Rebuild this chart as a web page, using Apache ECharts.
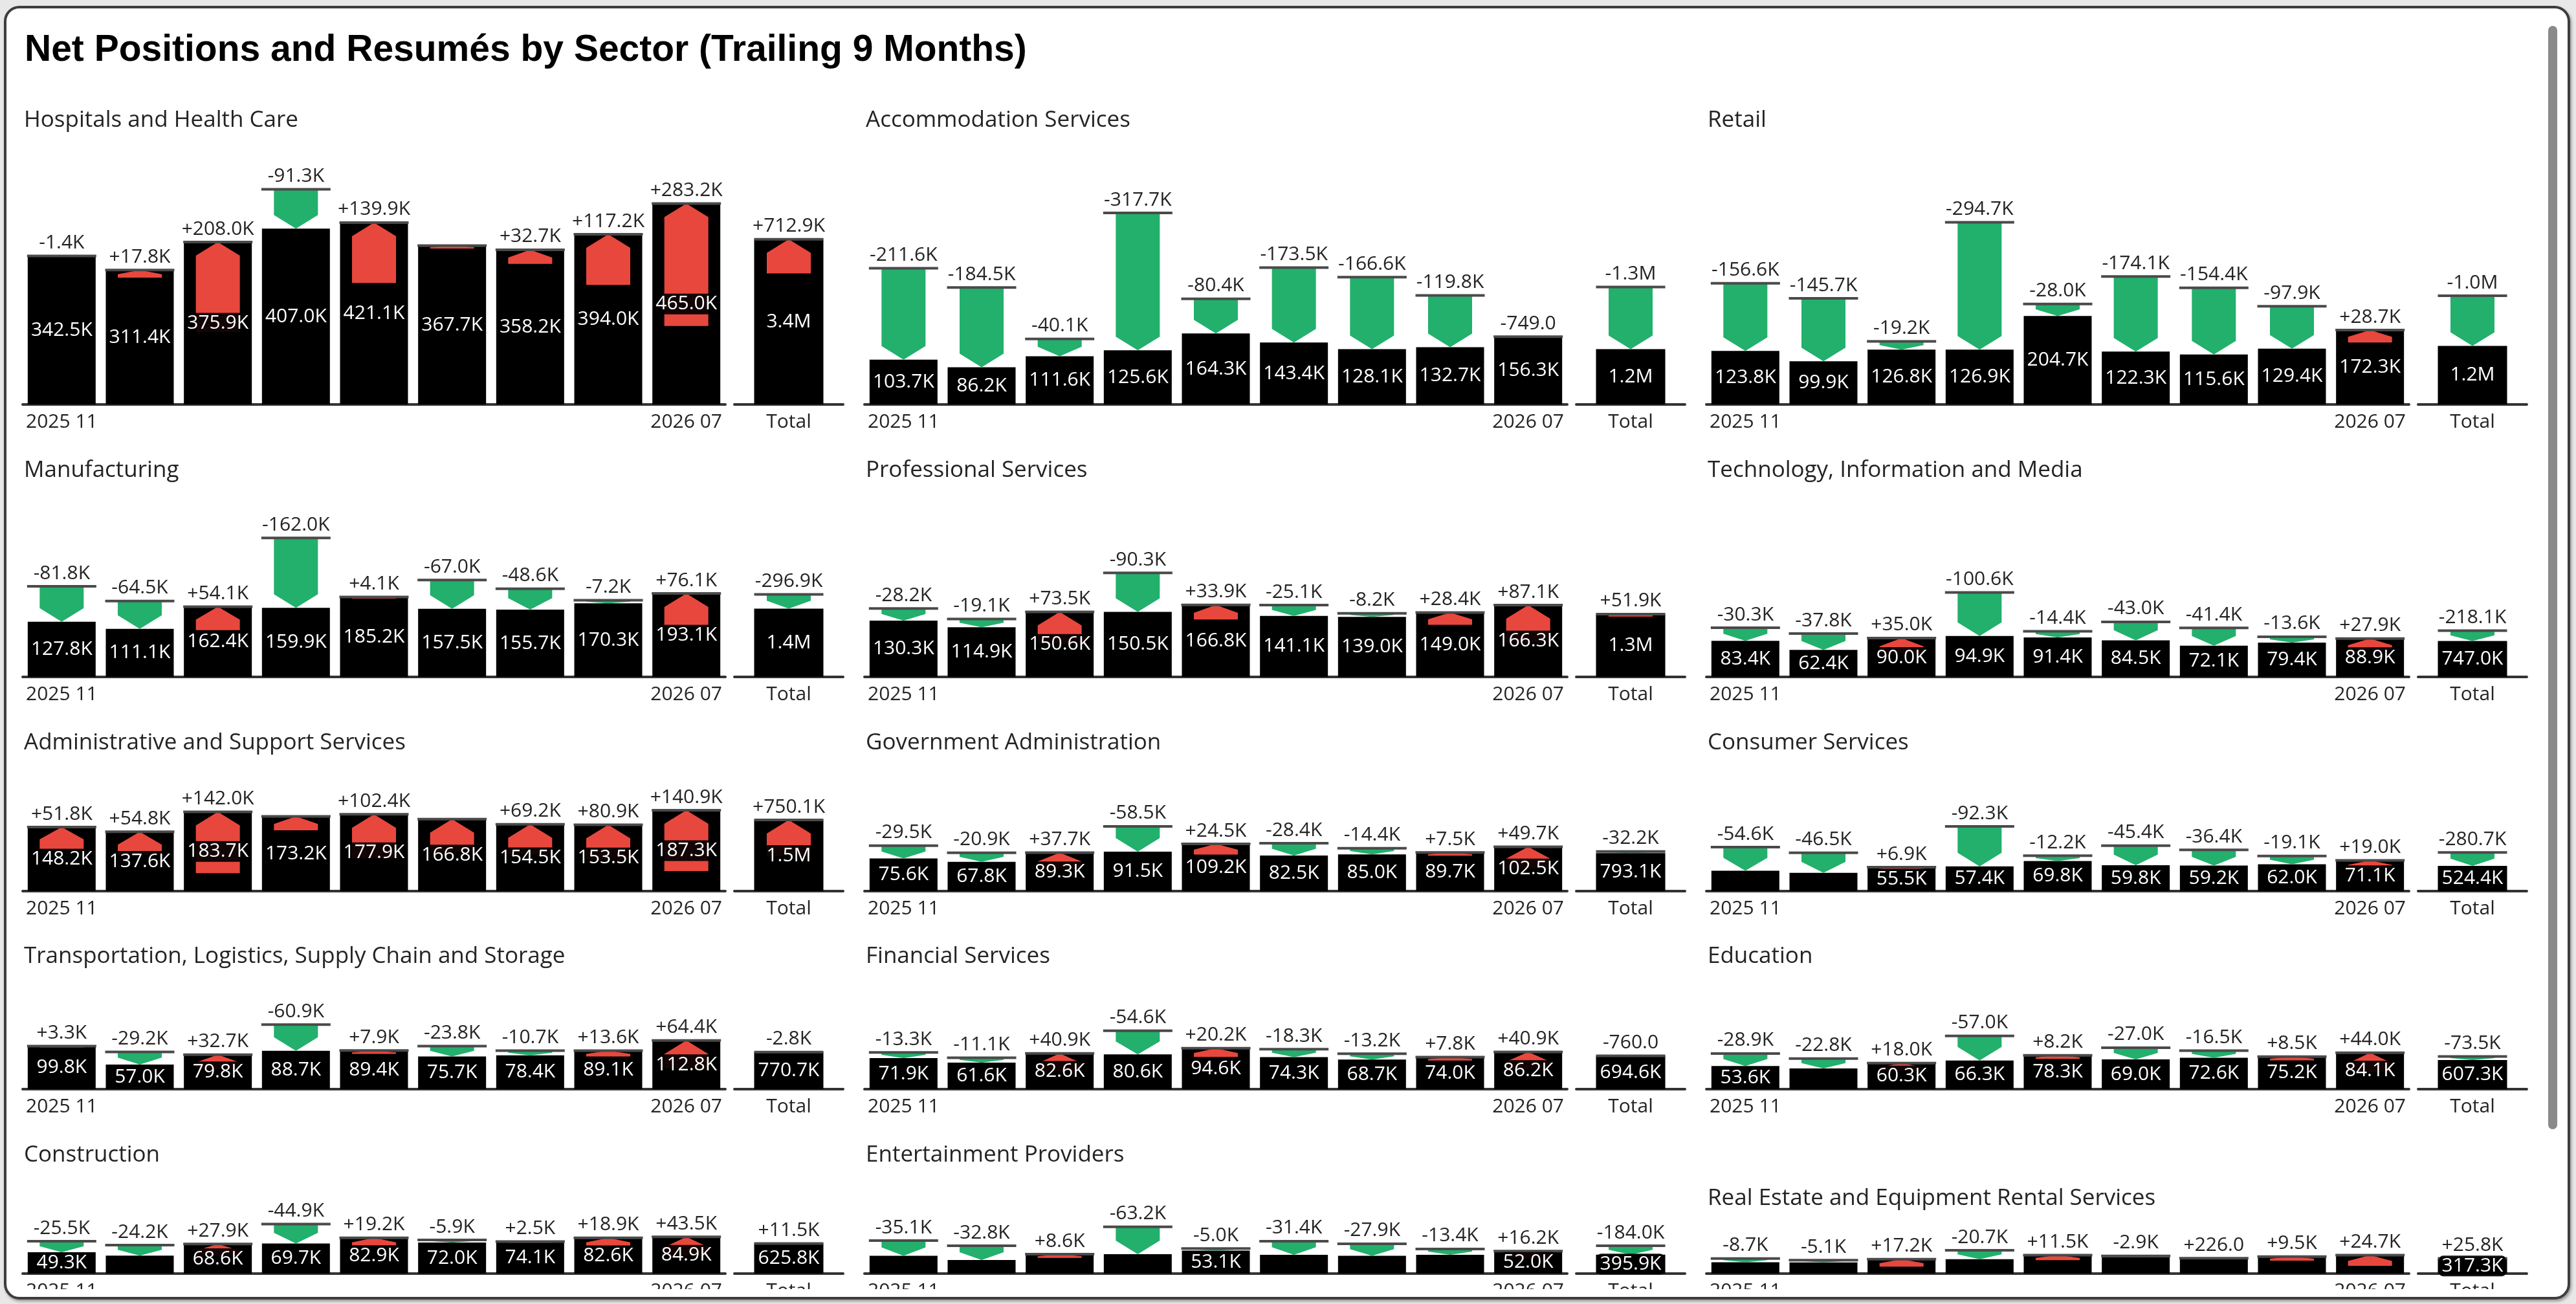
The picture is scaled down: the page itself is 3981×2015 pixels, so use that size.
<!DOCTYPE html>
<html>
<head>
<meta charset="utf-8">
<script src="https://cdn.jsdelivr.net/npm/echarts@6/dist/echarts.min.js"></script>
<style>
  html, body { margin: 0; padding: 0; width: 3981px; height: 2015px; overflow: hidden; background: #e8e8e8; }
  #frame { position: absolute; left: 6px; top: 9px; width: 3966px; height: 1999px; box-sizing: border-box;
           border: 4px solid #3d3d3d; border-radius: 24px; background: #fff; box-shadow: 2px 3px 4px rgba(0,0,0,.35); }
  #clip { position: absolute; left: 0; top: 0; width: 3981px; height: 1992px; overflow: hidden; }
  #chart { width: 3981px; height: 2100px; }
  #thumb { position: absolute; left: 3938px; top: 40px; width: 14px; height: 1705px; border-radius: 7px; background: #8a8a8a; }
</style>
</head>
<body>
<div id="frame"></div>
<div id="clip"><div id="chart"></div></div>
<div id="thumb"></div>
<script>
// values in thousands (K)
var mainTitle = 'Net Positions and Resumés by Sector (Trailing 9 Months)';
var months = ['2025 11', '2025 12', '2026 01', '2026 02', '2026 03', '2026 04', '2026 05', '2026 06', '2026 07'];
var sectors = [
  'Hospitals and Health Care', 'Accommodation Services', 'Retail',
  'Manufacturing', 'Professional Services', 'Technology, Information and Media',
  'Administrative and Support Services', 'Government Administration', 'Consumer Services',
  'Transportation, Logistics, Supply Chain and Storage', 'Financial Services', 'Education',
  'Construction', 'Entertainment Providers', 'Real Estate and Equipment Rental Services'
];
// net positions per month (black bars)
var positions = [
  [342.5, 311.4, 375.9, 407.0, 421.1, 367.7, 358.2, 394.0, 465.0],
  [103.7, 86.2, 111.6, 125.6, 164.3, 143.4, 128.1, 132.7, 156.3],
  [123.8, 99.9, 126.8, 126.9, 204.7, 122.3, 115.6, 129.4, 172.3],
  [127.8, 111.1, 162.4, 159.9, 185.2, 157.5, 155.7, 170.3, 193.1],
  [130.3, 114.9, 150.6, 150.5, 166.8, 141.1, 139.0, 149.0, 166.3],
  [83.4, 62.4, 90.0, 94.9, 91.4, 84.5, 72.1, 79.4, 88.9],
  [148.2, 137.6, 183.7, 173.2, 177.9, 166.8, 154.5, 153.5, 187.3],
  [75.6, 67.8, 89.3, 91.5, 109.2, 82.5, 85.0, 89.7, 102.5],
  [47.3, 42.3, 55.5, 57.4, 69.8, 59.8, 59.2, 62.0, 71.1],
  [99.8, 57.0, 79.8, 88.7, 89.4, 75.7, 78.4, 89.1, 112.8],
  [71.9, 61.6, 82.6, 80.6, 94.6, 74.3, 68.7, 74.0, 86.2],
  [53.6, 47.9, 60.3, 66.3, 78.3, 69.0, 72.6, 75.2, 84.1],
  [49.3, 41.7, 68.6, 69.7, 82.9, 72.0, 74.1, 82.6, 84.9],
  [41.2, 31.5, 44.9, 44.9, 53.1, 43.6, 41.1, 43.6, 52.0],
  [26.2, 25.9, 33.4, 33.2, 42.7, 38.1, 35.5, 39.5, 42.8]
];
// positions minus resumés per month (arrows)
var netChange = [
  [-1.4, 17.8, 208.0, -91.3, 139.9, 6.8, 32.7, 117.2, 283.2],
  [-211.6, -184.5, -40.1, -317.7, -80.4, -173.5, -166.6, -119.8, -0.749],
  [-156.6, -145.7, -19.2, -294.7, -28.0, -174.1, -154.4, -97.9, 28.7],
  [-81.8, -64.5, 54.1, -162.0, 4.1, -67.0, -48.6, -7.2, 76.1],
  [-28.2, -19.1, 73.5, -90.3, 33.9, -25.1, -8.2, 28.4, 87.1],
  [-30.3, -37.8, 35.0, -100.6, -14.4, -43.0, -41.4, -13.6, 27.9],
  [51.8, 54.8, 142.0, 32.5, 102.4, 75.6, 69.2, 80.9, 140.9],
  [-29.5, -20.9, 37.7, -58.5, 24.5, -28.4, -14.4, 7.5, 49.7],
  [-54.6, -46.5, 6.9, -92.3, -12.2, -45.4, -36.4, -19.1, 19.0],
  [3.3, -29.2, 32.7, -60.9, 7.9, -23.8, -10.7, 13.6, 64.4],
  [-13.3, -11.1, 40.9, -54.6, 20.2, -18.3, -13.2, 7.8, 40.9],
  [-28.9, -22.8, 18.0, -57.0, 8.2, -27.0, -16.5, 8.5, 44.0],
  [-25.5, -24.2, 27.9, -44.9, 19.2, -5.9, 2.5, 18.9, 43.5],
  [-35.1, -32.8, 8.6, -63.2, -5.0, -31.4, -27.9, -13.4, 16.2],
  [-8.7, -5.1, 17.2, -20.7, 11.5, -2.9, 0.226, 9.5, 24.7]
];
var totalPositions = [3442.8, 1151.9, 1221.7, 1423.0, 1308.5, 747.0, 1482.7, 793.1, 524.4, 770.7, 694.6, 607.3, 625.8, 395.9, 317.3];
var totalNet = [712.9, -1294.9, -1041.9, -296.9, 51.9, -218.1, 750.1, -32.2, -280.7, -2.8, -0.76, -73.5, 11.5, -184.0, 25.8];
// month labels that the original hides because they collide
var hiddenNet = { 0: [5], 6: [3, 5] };

// layout (pixels)
var PX_PER_K = 0.6675, Y_MAX = 600, GRID_H = Y_MAX * PX_PER_K;
var colX = [35, 1336, 2637];
var rowBase = [625, 1046, 1377, 1683, 1968];
var rowTitle = [186, 727, 1148, 1478, 1785];
var titleNudge = { 14: 67 };
var ARROW_W = 68, TIP_H = 21, MARK_W = 107;
var FONT = '"Open Sans", "Segoe UI", sans-serif';
var LABEL_SIZE = 30;
var TEXT = '#252423', GREEN = '#22b06c', RED = '#e8473d';

function fmt(k) {
  var a = Math.abs(k);
  if (a >= 1000) return (k / 1000).toFixed(1) + 'M';
  if (a >= 1) return k.toFixed(1) + 'K';
  return (k * 1000).toFixed(1);
}
function signed(k) { return (k > 0 ? '+' : '') + fmt(k); }

function makeRender(hidden, isTotal) {
  return function (params, api) {
    var i = api.value(0), pos = api.value(1), net = api.value(2);
    var pTop = api.coord([i, pos]), pRes = api.coord([i, pos - net]);
    var base = api.coord([i, 0])[1];
    var x = pTop[0];
    var yTop = Math.min(pTop[1], pRes[1]), yBot = Math.max(pTop[1], pRes[1]);
    var len = yBot - yTop, hw = ARROW_W / 2, tip = Math.min(TIP_H, len * 0.55);
    var pts;
    if (net < 0) {
      pts = [[x - hw, yTop], [x + hw, yTop], [x + hw, yBot - tip], [x, yBot], [x - hw, yBot - tip]];
    } else {
      pts = [[x, yTop], [x + hw, yTop + tip], [x + hw, yBot], [x - hw, yBot], [x - hw, yTop + tip]];
    }
    var kids = [
      { type: 'polygon', shape: { points: pts }, style: { fill: net < 0 ? GREEN : RED } },
      { type: 'rect', shape: { x: x - MARK_W / 2, y: yTop - 2, width: MARK_W, height: 4 }, style: { fill: '#4a4a4a' } }
    ];
    if (hidden.indexOf(i) < 0) {
      kids.push({ type: 'text', x: x, y: yTop - 5,
        style: { text: signed(net), align: 'center', verticalAlign: 'bottom', fontFamily: FONT, fontSize: LABEL_SIZE, fill: TEXT } });
    }
    if (isTotal || base - pTop[1] >= 32) {
      kids.push({ type: 'text', x: x, y: (base + pTop[1]) / 2,
        style: { text: fmt(pos), align: 'center', verticalAlign: 'middle', fontFamily: FONT, fontSize: LABEL_SIZE, fill: '#fff',
                 backgroundColor: 'rgba(0,0,0,0.92)', padding: [1, 4], borderRadius: 6 } });
    }
    return { type: 'group', children: kids };
  };
}

var title = [{
  text: mainTitle, left: 38, top: 50, padding: 0,
  textStyle: { fontFamily: '"Liberation Sans", Arial, sans-serif', fontWeight: 'bold', fontSize: 57, lineHeight: 57, color: '#000' }
}];
var grid = [], xAxis = [], yAxis = [], series = [];

sectors.forEach(function (name, s) {
  var r = Math.floor(s / 3), c = s % 3, x0 = colX[c], base = rowBase[r];
  var ty = rowTitle[r] + (titleNudge[s] || 0);
  title.push({ text: name, left: x0 + 2, top: ty - 18, padding: 0,
    textStyle: { fontFamily: FONT, fontSize: 35, lineHeight: 36, fontWeight: 'normal', color: TEXT } });

  var gi = grid.length;
  grid.push({ left: x0, top: base - GRID_H, width: 1086, height: GRID_H });
  grid.push({ left: x0 + 1100, top: base - GRID_H, width: 168, height: GRID_H });

  var axisCommon = {
    type: 'category', axisTick: { show: false },
    axisLine: { lineStyle: { color: '#333', width: 4 } },
    axisLabel: { interval: 0, margin: 12, fontFamily: FONT, fontSize: LABEL_SIZE, color: TEXT }
  };
  xAxis.push(Object.assign({}, axisCommon, { gridIndex: gi, data: months,
    axisLabel: Object.assign({}, axisCommon.axisLabel, {
      formatter: function (v, idx) { return (idx === 0 || idx === months.length - 1) ? v : ''; } }) }));
  xAxis.push(Object.assign({}, axisCommon, { gridIndex: gi + 1, data: ['Total'] }));
  yAxis.push({ gridIndex: gi, type: 'value', min: 0, max: Y_MAX, show: false });
  yAxis.push({ gridIndex: gi + 1, type: 'value', min: 0, max: Y_MAX * months.length, show: false });

  series.push({
    type: 'bar', xAxisIndex: gi, yAxisIndex: gi, data: positions[s], barWidth: 105,
    itemStyle: { color: '#000' }, z: 2, silent: true
  });
  series.push({
    type: 'custom', xAxisIndex: gi, yAxisIndex: gi, z: 3, silent: true,
    renderItem: makeRender(hiddenNet[s] || [], false),
    data: positions[s].map(function (p, i) { return [i, p, netChange[s][i]]; })
  });
  series.push({
    type: 'bar', xAxisIndex: gi + 1, yAxisIndex: gi + 1, data: [totalPositions[s]], barWidth: 107,
    itemStyle: { color: '#000' }, z: 2, silent: true
  });
  series.push({
    type: 'custom', xAxisIndex: gi + 1, yAxisIndex: gi + 1, z: 3, silent: true,
    renderItem: makeRender([], true),
    data: [[0, totalPositions[s], totalNet[s]]]
  });
});

var chart = echarts.init(document.getElementById('chart'));
chart.setOption({
  animation: false,
  backgroundColor: 'transparent',
  title: title,
  grid: grid,
  xAxis: xAxis,
  yAxis: yAxis,
  series: series
});
</script>
</body>
</html>
